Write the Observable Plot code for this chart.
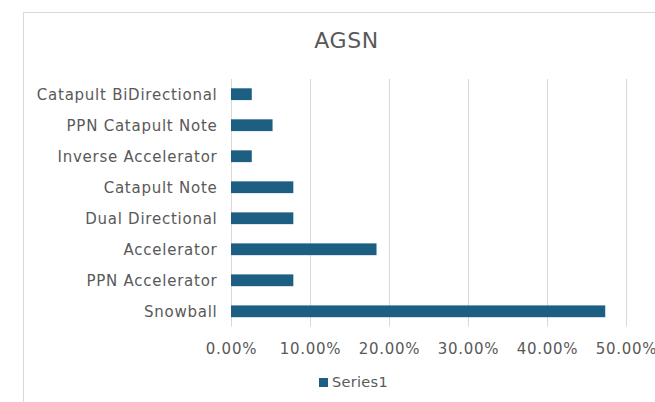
<!DOCTYPE html>
<html><head><meta charset="utf-8">
<script src="https://cdn.jsdelivr.net/npm/d3@7"></script>
<script src="https://cdn.jsdelivr.net/npm/@observablehq/plot@0.6"></script>
<style>
body{margin:0;background:#fff;font-family:"DejaVu Sans",sans-serif;}
#wrap{position:relative;width:655px;height:402px;overflow:hidden;}
#frame{position:absolute;left:23px;top:12px;width:700px;height:450px;border:1px solid #d9d9d9;box-sizing:border-box;}
#title{position:absolute;left:0;top:28px;width:693px;text-align:center;font-size:22px;letter-spacing:0.6px;color:#595959;}
#chart{position:absolute;left:0;top:60px;}
#legend{position:absolute;left:319px;top:374px;font-size:14.5px;letter-spacing:0.3px;color:#595959;display:flex;align-items:center;}
#legend span.sw{display:inline-block;width:9px;height:9px;background:#1c5f82;margin-right:4px;}
</style></head><body>
<div id="wrap"><div id="frame"></div><div id="title">AGSN</div><div id="chart"></div>
<div id="legend"><span class="sw"></span>Series1</div></div>
<script>
const categories = ["Catapult BiDirectional","PPN Catapult Note","Inverse Accelerator","Catapult Note","Dual Directional","Accelerator","PPN Accelerator","Snowball"];
const values = [0.0263,0.0526,0.0263,0.0789,0.0789,0.1842,0.0789,0.4737];
const xTicks = [0,0.1,0.2,0.3,0.4,0.5];
const data = categories.map((c,i)=>({category:c,value:values[i]}));
const chart = Plot.plot({
  width:655, height:300,
  marginLeft:231, marginRight:29, marginTop:19, marginBottom:33.5,
  style:{fontFamily:"DejaVu Sans, sans-serif",fontSize:"15px",letterSpacing:"0.75px",color:"#595959",overflow:"visible"},
  x:{domain:[0,0.5],ticks:xTicks,tickFormat:d=>(d*100).toFixed(2)+"%",tickSize:0,tickPadding:16,label:null},
  y:{domain:categories,paddingInner:0.62,paddingOuter:0.3,round:false,tickSize:0,tickPadding:14,label:null},
  marks:[
    Plot.ruleX(xTicks,{stroke:"#d9d9d9",strokeWidth:1}),
    Plot.barX(data,{y:"category",x:"value",fill:"#1c5f82"})
  ]
});
document.getElementById("chart").appendChild(chart);
</script></body></html>
